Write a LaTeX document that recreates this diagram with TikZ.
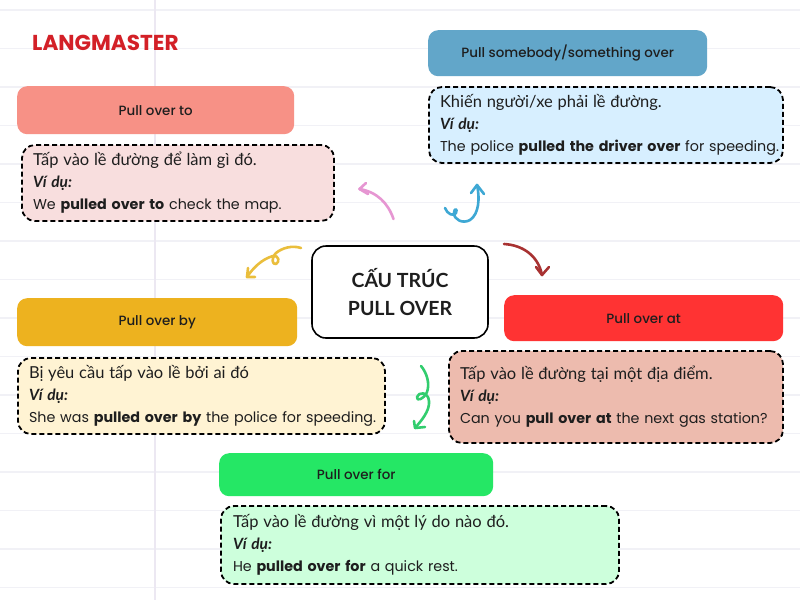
\documentclass[tikz,border=0pt]{standalone}
\usepackage{fontspec}
\setmainfont{Poppins}
\newfontfamily\vnfont{Lato}
\newfontfamily\popm{Poppins Medium}
\usetikzlibrary{arrows.meta}
\definecolor{gridc}{HTML}{F1F1F6}
\definecolor{vlinec}{HTML}{ECE8F2}
\definecolor{ink}{HTML}{1E1E1E}
\tikzset{
  x=1pt,y=-1pt,
  headbox/.style={rounded corners=10pt,anchor=north west,inner sep=0pt,font=\fontsize{13.4}{15}\selectfont\popm,text=ink},
  notebox/.style={draw=black,line width=1.8pt,dash pattern=on 5pt off 3pt,rounded corners=13pt,anchor=north west,outer sep=0pt,inner xsep=11pt,inner ysep=0pt,align=left,text=ink,font=\fontsize{14.3}{22}\selectfont},
  curl/.style={line width=2.6pt,line cap=round,line join=round}
}
\newcommand{\vn}[1]{\mbox{\vnfont\fontsize{16.5}{22}\selectfont #1}}
\newcommand{\vidu}{\mbox{\vnfont\bfseries\itshape\fontsize{15.5}{22}\selectfont Ví dụ:}}
\newcommand{\lowr}{\rule[-2pt]{0pt}{0pt}}
\begin{document}
\begin{tikzpicture}
\useasboundingbox (0,0) rectangle (800,600);
\fill[white] (0,0) rectangle (800,600);
\foreach \yy in {10,48.5,87,125.5,164,202.5,241,279.5,318,356.5,395,433.5,472,510.5,549,587.5}
  \draw[gridc,line width=1.2pt] (0,\yy) -- (800,\yy);
\draw[vlinec,line width=1.2pt] (155,0) -- (155,600);

\node[anchor=west,inner sep=0pt,text={rgb,255:red,211;green,32;blue,39},font=\fontsize{21.6}{22}\selectfont\bfseries] (logo) at (32,42.5) {LANGMASTER};

\node[headbox,fill={rgb,255:red,247;green,145;blue,134},minimum width=277pt,minimum height=48pt] (h1) at (17,86) {Pull over to};
\node[notebox,fill={rgb,255:red,248;green,222;blue,222},minimum width=312pt,minimum height=76pt,text width=290pt] (n1) at (22,145)
 {\vn{Tấp vào lề đường để làm gì đó.}\\\vidu\\\mbox{We \textbf{pulled over to} check the map.}\lowr};

\node[headbox,fill={rgb,255:red,98;green,166;blue,201},minimum width=279pt,minimum height=46pt] (h2) at (428,30) {Pull somebody/something over};
\node[notebox,fill={rgb,255:red,215;green,239;blue,255},minimum width=354pt,minimum height=76pt,text width=332pt] (n2) at (429,87)
 {\vn{Khiến người/xe phải lề đường.}\\\vidu\\\mbox{The police \textbf{pulled the driver over} for speeding.}};

\node[draw=black,fill=white,line width=1.6pt,rounded corners=14pt,anchor=north west,outer sep=0pt,minimum width=176pt,minimum height=92pt,inner sep=0pt,align=center,text=ink,font=\fontsize{19.5}{28}\selectfont\vnfont\bfseries] (c) at (312,246) {\rule{0pt}{16pt}CẤU TRÚC\\PULL OVER};

\node[headbox,fill={rgb,255:red,237;green,178;blue,31},minimum width=280pt,minimum height=48pt] (h3) at (17,298) {Pull over by};
\node[notebox,fill={rgb,255:red,255;green,243;blue,211},minimum width=367pt,minimum height=76pt,text width=345pt] (n3) at (18,358)
 {\vn{Bị yêu cầu tấp vào lề bởi ai đó}\\\vidu\\\mbox{She was \textbf{pulled over by} the police for speeding.}\lowr};

\node[headbox,fill={rgb,255:red,255;green,51;blue,51},minimum width=279pt,minimum height=46pt] (h4) at (504,295) {Pull over at};
\node[notebox,fill={rgb,255:red,237;green,187;blue,174},minimum width=334pt,minimum height=92pt,text width=312pt] (n4) at (449,351)
 {\vn{Tấp vào lề đường tại một địa điểm.}\\\vidu\\\mbox{Can you \textbf{pull over at} the next gas station?}\lowr};

\node[headbox,fill={rgb,255:red,37;green,231;blue,101},minimum width=274pt,minimum height=43pt] (h5) at (219,453) {Pull over for};
\node[notebox,fill={rgb,255:red,205;green,255;blue,220},minimum width=398pt,minimum height=78pt,inner xsep=12pt,text width=374pt] (n5) at (221,506)
 {\vn{Tấp vào lề đường vì một lý do nào đó.}\\\vidu\\\mbox{He \textbf{pulled over for} a quick rest.}};

% pink
\coordinate (a1s) at (393.5,219); \coordinate (a1e) at (359.5,189);
\draw[curl,color={rgb,255:red,230;green,150;blue,210}] (a1s) .. controls (388,203) and (377,192) .. (a1e);
\draw[curl,color={rgb,255:red,230;green,150;blue,210}] (366,183) -- (a1e) -- (368,194);
% blue
\coordinate (a2s) at (445,208); \coordinate (a2e) at (477,185);
\draw[curl,color={rgb,255:red,62;green,168;blue,212}] (a2s) .. controls (447,214) and (454,217) .. (456,213)
  .. controls (458,208) and (454,208) .. (454,213) .. controls (454,220) and (463,224) .. (470,220)
  .. controls (479,214) and (480,198) .. (a2e);
\draw[curl,color={rgb,255:red,62;green,168;blue,212}] (471,193) -- (a2e) -- (484,194);
% gold
\coordinate (a3s) at (301,248); \coordinate (a3e) at (247,277);
\draw[curl,color={rgb,255:red,234;green,190;blue,60}] (a3s) .. controls (292,245) and (282,248) .. (276,253)
  .. controls (271,258) and (272,265) .. (276,264) .. controls (280,262) and (279,255) .. (273,256)
  .. controls (262,259) and (253,268) .. (a3e);
\draw[curl,color={rgb,255:red,234;green,190;blue,60}] (248,268) -- (a3e) -- (255,277);
% dark red
\coordinate (a4s) at (504,244); \coordinate (a4e) at (542,275);
\draw[curl,color={rgb,255:red,168;green,50;blue,50}] (a4s) .. controls (522,245) and (538,255) .. (a4e);
\draw[curl,color={rgb,255:red,168;green,50;blue,50}] (536,267) -- (a4e) -- (549,267);
% green
\coordinate (a5s) at (421,366); \coordinate (a5e) at (415,428);
\draw[curl,color={rgb,255:red,50;green,205;blue,110}] (a5s) .. controls (427,373) and (430,384) .. (427,392)
  .. controls (424,399) and (416,402) .. (417,397) .. controls (418,392) and (428,391) .. (429,401)
  .. controls (430,411) and (421,421) .. (a5e);
\draw[curl,color={rgb,255:red,50;green,205;blue,110}] (414,421) -- (a5e) -- (425,427);
\end{tikzpicture}
\end{document}
